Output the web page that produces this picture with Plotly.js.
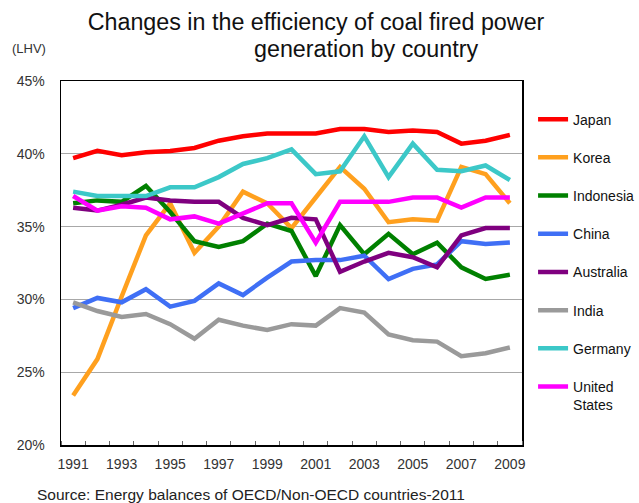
<!DOCTYPE html>
<html>
<head>
<meta charset="utf-8">
<script src="https://cdn.plot.ly/plotly-3.0.1.min.js"></script>
<style>html,body{margin:0;padding:0;background:#fff;}#chart{width:639px;height:503px;}</style>
</head>
<body>
<div id="chart"></div>
<script>
const years = [1991,1992,1993,1994,1995,1996,1997,1998,1999,2000,2001,2002,2003,2004,2005,2006,2007,2008,2009];
const japan     = [39.7,40.2,39.9,40.1,40.2,40.4,40.9,41.2,41.4,41.4,41.4,41.7,41.7,41.5,41.6,41.5,40.7,40.9,41.3];
const korea     = [23.4,25.9,30.2,34.4,36.6,33.2,35.0,37.4,36.6,34.9,37.0,39.1,37.6,35.3,35.5,35.4,39.1,38.6,36.6];
const indonesia = [36.6,36.8,36.7,37.8,36.0,34.0,33.6,34.0,35.2,34.7,31.6,35.1,33.1,34.5,33.1,33.9,32.2,31.4,31.7];
const china     = [29.4,30.1,29.8,30.7,29.5,29.9,31.1,30.3,31.5,32.6,32.7,32.7,33.0,31.4,32.1,32.4,34.0,33.8,33.9];
const australia = [36.3,36.1,36.5,37.0,36.8,36.7,36.7,35.6,35.1,35.6,35.5,31.9,32.6,33.2,32.9,32.2,34.4,34.9,34.9];
const india     = [29.8,29.2,28.8,29.0,28.3,27.3,28.6,28.2,27.9,28.3,28.2,29.4,29.1,27.6,27.2,27.1,26.1,26.3,26.7];
const germany   = [37.4,37.1,37.1,37.1,37.7,37.7,38.4,39.3,39.7,40.3,38.6,38.8,41.2,38.4,40.7,38.9,38.8,39.2,38.2];
const usa       = [37.1,36.1,36.4,36.3,35.5,35.7,35.2,35.9,36.6,36.6,33.9,36.7,36.7,36.7,37.0,37.0,36.3,37.0,37.0];

const seriesNames  = ["Japan","Korea","Indonesia","China","Australia","India","Germany","United<br>States"];
const seriesData   = [japan,korea,indonesia,china,australia,india,germany,usa];
const seriesColors = ["#ff0000","#ffa01e","#008000","#3f6ff5","#7f007f","#9a9a9a","#3cc8c8","#ff00ff"];

const yTicks = [20,25,30,35,40,45];
const yTickText = ["20%","25%","30%","35%","40%","45%"];
const xTicks = [1991,1993,1995,1997,1999,2001,2003,2005,2007,2009];

const FONT = "Arial, 'Liberation Sans', sans-serif";

const traces = seriesNames.map((n,i)=>({
  x: years, y: seriesData[i], name: n, type: 'scatter', mode: 'lines',
  line: {color: seriesColors[i], width: 4.5},
  legendgroup: 'g'+i
}));

const layout = {
  width: 639, height: 503,
  margin: {l: 61, r: 117, t: 81, b: 58, autoexpand: false},
  paper_bgcolor: '#fff', plot_bgcolor: '#fff',
  font: {family: FONT, color: '#222', size: 14},
  showlegend: true,
  legend: {
    x: 1.024, xanchor: 'left', y: 0.938, yanchor: 'top',
    font: {family: FONT, size: 14, color: '#111'},
    tracegroupgap: 17, valign: 'top', bgcolor: 'rgba(0,0,0,0)',
    itemwidth: 30
  },
  xaxis: {
    type: 'linear', range: [1990.5, 2009.5],
    tickvals: xTicks, ticktext: xTicks.map(String),
    ticks: '', showgrid: false, zeroline: false,
    showline: true, linecolor: '#000', linewidth: 1.5, mirror: true,
    tickfont: {family: FONT, size: 14, color: '#333'},
    ticklabelstandoff: 6,
    minor: {tick0: 1990.5, dtick: 1, ticks: 'inside', ticklen: 4, tickcolor: '#666', showgrid: false}
  },
  yaxis: {
    range: [20, 45], tickvals: yTicks, ticktext: yTickText,
    ticks: '', showgrid: true, gridcolor: '#a8a8a8', gridwidth: 1, zeroline: false,
    showline: true, linecolor: '#000', linewidth: 1.5, mirror: true,
    tickfont: {family: FONT, size: 14, color: '#333'},
    ticklabelstandoff: 12
  },
  title: {
    text: 'Changes in the efficiency of coal fired power',
    x: 316/639, xanchor: 'center', xref: 'container',
    y: 1 - 22/503, yanchor: 'middle', yref: 'container',
    font: {family: FONT, size: 23.3, color: '#111'}
  },
  annotations: [
    {text: 'generation by country', xref: 'paper', yref: 'paper',
     x: (366-61)/461, y: (445-49)/364, xanchor: 'center', yanchor: 'middle',
     showarrow: false, font: {family: FONT, size: 23.3, color: '#111'}},
    {text: '(LHV)', xref: 'paper', yref: 'paper',
     x: (10-61)/461, y: (445-48)/364, xanchor: 'left', yanchor: 'middle',
     showarrow: false, font: {family: FONT, size: 13, color: '#333'}},
    {text: 'Source: Energy balances of OECD/Non-OECD countries-2011', xref: 'paper', yref: 'paper',
     x: (35-61)/461, y: (445-494)/364, xanchor: 'left', yanchor: 'middle',
     showarrow: false, font: {family: FONT, size: 15.5, color: '#222'}}
  ]
};

Plotly.newPlot('chart', traces, layout, {staticPlot: true, displayModeBar: false});
</script>
</body>
</html>
